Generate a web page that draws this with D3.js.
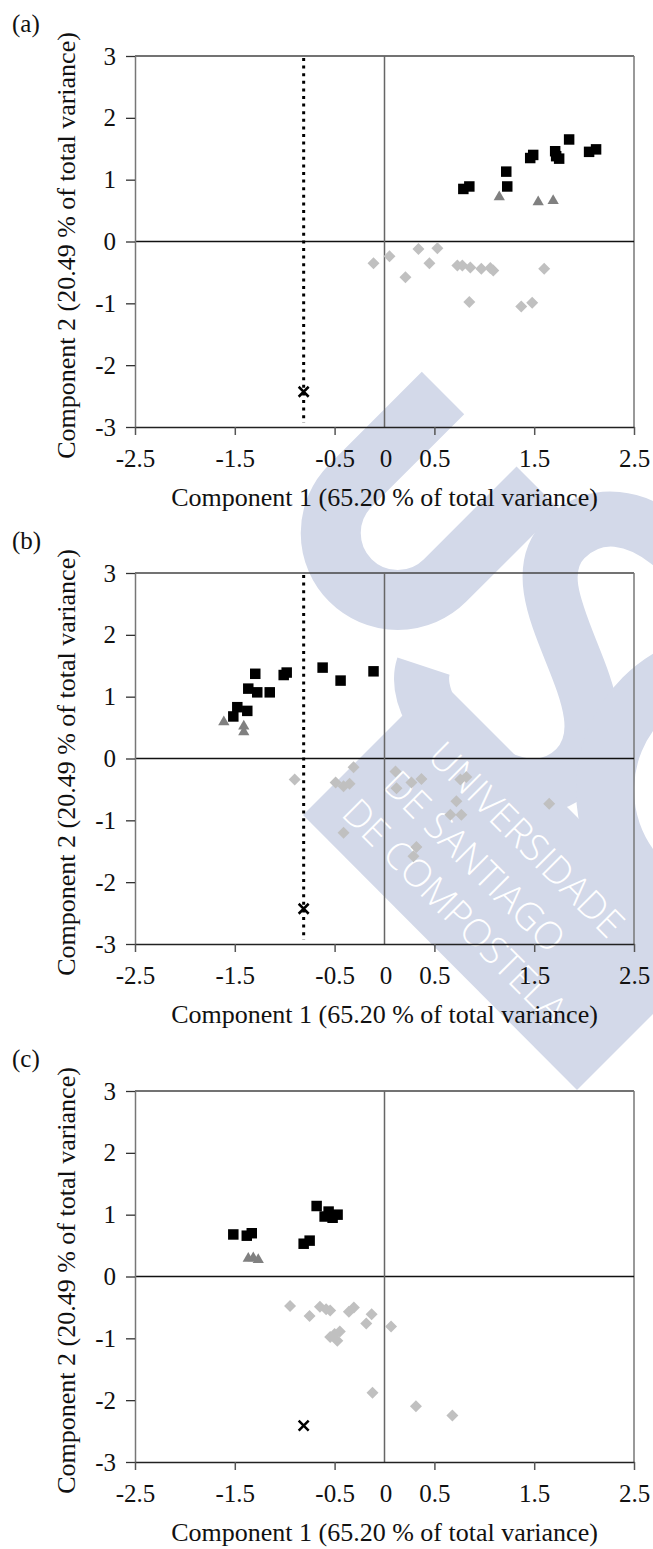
<!DOCTYPE html>
<html lang="en">
<head>
<meta charset="utf-8">
<title>PCA scores</title>
<script src="https://cdn.jsdelivr.net/npm/d3@7"></script>
<style>
  body { margin: 0; background: #fff; }
  svg text { font-family: "Liberation Serif", "Times New Roman", serif; fill: #111; }
  .axis text { font-size: 25px; }
  .wm text { font-family: "Open Sans", "DejaVu Sans", sans-serif; fill: #fff; font-weight: 300; }
</style>
</head>
<body>
<script>
// ---- data: [component 1, component 2] ----
// panel (a)
var aSquares = [[0.79,0.85],[0.85,0.89],[1.22,1.13],[1.23,0.89],[1.46,1.35],[1.49,1.40],
                [1.71,1.46],[1.72,1.38],[1.75,1.34],[1.85,1.65],[2.05,1.45],[2.12,1.49]];
var aTriangles = [[1.15,0.72],[1.54,0.64],[1.69,0.66]];
var aDiamonds = [[-0.11,-0.35],[0.05,-0.24],[0.21,-0.58],[0.34,-0.12],[0.45,-0.35],[0.53,-0.11],
                 [0.73,-0.39],[0.78,-0.39],[0.86,-0.42],[0.97,-0.44],[1.06,-0.43],[1.09,-0.47],
                 [0.85,-0.98],[1.37,-1.05],[1.48,-0.99],[1.60,-0.44]];
var aCross = [[-0.81,-2.43]];

// panel (b)
var bSquares = [[-1.515,0.68],[-1.475,0.83],[-1.375,0.77],[-1.365,1.13],[-1.275,1.07],[-1.295,1.37],
                [-1.15,1.07],[-1.01,1.35],[-0.98,1.39],[-0.62,1.47],[-0.44,1.26],[-0.11,1.41]];
var bTriangles = [[-1.61,0.59],[-1.41,0.52],[-1.41,0.43]];
var bDiamonds = [[-0.90,-0.34],[-0.31,-0.14],[-0.49,-0.39],[-0.41,-0.45],[-0.35,-0.41],[-0.41,-1.20],
                 [0.11,-0.21],[0.12,-0.48],[0.27,-0.39],[0.37,-0.33],[0.76,-0.34],[0.82,-0.30],
                 [0.72,-0.69],[0.66,-0.91],[0.77,-0.91],[0.32,-1.43],[0.29,-1.58],[1.65,-0.73]];
var bCross = [[-0.81,-2.43]];

// panel (c)
var cSquares = [[-1.515,0.68],[-1.38,0.66],[-1.33,0.70],[-0.81,0.53],[-0.75,0.58],[-0.68,1.14],
                [-0.60,0.97],[-0.56,1.05],[-0.52,0.95],[-0.47,1.00]];
var cTriangles = [[-1.365,0.29],[-1.315,0.30],[-1.265,0.27]];
var cDiamonds = [[-0.946,-0.478],[-0.751,-0.64],[-0.647,-0.49],[-0.585,-0.53],[-0.544,-0.55],
                 [-0.357,-0.57],[-0.307,-0.50],[-0.129,-0.61],[-0.183,-0.76],[0.066,-0.81],
                 [-0.544,-0.98],[-0.473,-1.04],[-0.448,-0.89],[-0.50,-0.93],[-0.12,-1.88],
                 [0.315,-2.10],[0.68,-2.25]];
var cCross = [[-0.81,-2.41]];

var cutoffs = [-0.81, -0.81, null];   // dotted vertical line, panels a and b
var xTicks = [-2.5, -1.5, -0.5, 0, 0.5, 1.5, 2.5];
var yTicks = [-3, -2, -1, 0, 1, 2, 3];
var panelLabels = ["(a)", "(b)", "(c)"];
var xTitle = "Component 1 (65.20 % of total variance)";
var yTitle = "Component 2 (20.49 % of total variance)";

// ---- layout ----
var w = 653, h = 1549;
var left = 135, right = 634, plotH = 371;
var tops = [56, 573, 1091];
var wmColor = "#d3d9e9";

var svg = d3.select("body").append("svg")
    .attr("width", w).attr("height", h);

// faint university watermark behind everything (U, S, C and the name band, tilted 45 deg)
var wm = svg.append("g").attr("class", "wm");
wm.append("path")
    .attr("transform", "translate(443,393) rotate(45)")
    .attr("d", "M0,0 L0,131 A67,67 0 0 0 134,131 L134,0")
    .attr("fill", "none").attr("stroke", wmColor).attr("stroke-width", 60);
wm.append("path")
    .attr("transform", "translate(572,652) rotate(45)")
    .attr("d", "M85,-115 C60,-160 -85,-165 -85,-75 C-85,5 85,-5 85,80 C85,165 -70,165 -95,115")
    .attr("fill", "none").attr("stroke", wmColor).attr("stroke-width", 55);
wm.append("path")
    .attr("transform", "translate(735,790) rotate(45)")
    .attr("d", "M83.6,-99.6 A130,130 0 1 0 83.6,99.6")
    .attr("fill", "none").attr("stroke", wmColor).attr("stroke-width", 58);
wm.append("polygon")
    .attr("points", "303,815 439,679 653,893 653,1014 577,1090")
    .attr("fill", wmColor);
var wmLines = [["UNIVERSIDADE", 426, 758], ["DE SANTIAGO", 381, 787], ["DE COMPOSTELA", 340, 815]];
wm.selectAll("text").data(wmLines).enter().append("text")
    .attr("transform", function(d) { return "translate(" + d[1] + "," + d[2] + ") rotate(45)"; })
    .style("font-size", "38px")
    .text(function(d) { return d[0]; });

var xScale = d3.scaleLinear().domain([-2.5, 2.5]).range([left, right]);

var panels = [
  {sq: aSquares, tr: aTriangles, di: aDiamonds, x: aCross},
  {sq: bSquares, tr: bTriangles, di: bDiamonds, x: bCross},
  {sq: cSquares, tr: cTriangles, di: cDiamonds, x: cCross}
];

panels.forEach(function(p, i) {
  var top = tops[i], bottom = top + plotH;
  var yScale = d3.scaleLinear().domain([-3, 3]).range([bottom, top]);
  var g = svg.append("g");

  // frame: top and right
  g.append("line").attr("x1", left).attr("x2", right).attr("y1", top).attr("y2", top)
    .attr("stroke", "#444").attr("stroke-width", 1.5);
  g.append("line").attr("x1", right).attr("x2", right).attr("y1", top).attr("y2", bottom)
    .attr("stroke", "#777").attr("stroke-width", 1.5);

  // zero lines
  g.append("line").attr("x1", left).attr("x2", right)
    .attr("y1", yScale(0)).attr("y2", yScale(0))
    .attr("stroke", "#111").attr("stroke-width", 1.3);
  g.append("line").attr("x1", xScale(0)).attr("x2", xScale(0))
    .attr("y1", top).attr("y2", bottom)
    .attr("stroke", "#666").attr("stroke-width", 1.5);

  // dotted cut-off line
  if (cutoffs[i] !== null) {
    g.append("line").attr("x1", xScale(cutoffs[i])).attr("x2", xScale(cutoffs[i]))
      .attr("y1", top + 2).attr("y2", bottom - 4)
      .attr("stroke", "#000").attr("stroke-width", 3)
      .attr("stroke-dasharray", "3,4.6");
  }

  // axes
  var yAxis = d3.axisLeft(yScale).tickValues(yTicks).tickSize(9).tickPadding(10)
      .tickSizeOuter(0).tickFormat(function(d) { return String(d); });
  var ya = g.append("g").attr("class", "axis")
      .attr("transform", "translate(" + left + ",0)").call(yAxis);
  ya.select(".domain").attr("stroke", "#777").attr("stroke-width", 1.5);
  ya.selectAll(".tick line").attr("stroke", "#333").attr("stroke-width", 1.3);

  var xAxis = d3.axisBottom(xScale).tickValues(xTicks).tickSize(8).tickPadding(14)
      .tickSizeOuter(0).tickFormat(function(d) { return String(d); });
  var xa = g.append("g").attr("class", "axis")
      .attr("transform", "translate(0," + bottom + ")").call(xAxis);
  xa.select(".domain").attr("stroke", "#222").attr("stroke-width", 1.5);
  xa.selectAll(".tick line").attr("stroke", "#555").attr("stroke-width", 1.5)
    .filter(function(d) { return d === 0; }).remove();
  xa.selectAll(".tick text").attr("dx", function(d) { return d === 0 ? "1" : "0"; });

  // markers
  g.selectAll(".di").data(p.di).enter().append("path").attr("class", "di")
    .attr("d", d3.symbol(d3.symbolSquare, 72))
    .attr("transform", function(d) { return "translate(" + xScale(d[0]) + "," + yScale(d[1]) + ") rotate(45)"; })
    .attr("fill", "#c0c0c0");

  g.selectAll(".tr").data(p.tr).enter().append("path").attr("class", "tr")
    .attr("d", d3.symbol(d3.symbolTriangle, 55))
    .attr("transform", function(d) { return "translate(" + xScale(d[0]) + "," + yScale(d[1]) + ")"; })
    .attr("fill", "#808080");

  g.selectAll(".sq").data(p.sq).enter().append("path").attr("class", "sq")
    .attr("d", d3.symbol(d3.symbolSquare, 110))
    .attr("transform", function(d) { return "translate(" + xScale(d[0]) + "," + yScale(d[1]) + ")"; })
    .attr("fill", "#000");

  g.selectAll(".cx").data(p.x).enter().append("path").attr("class", "cx")
    .attr("d", function(d) {
      var cx = xScale(d[0]), cy = yScale(d[1]), r = 5;
      return "M" + (cx - r) + "," + (cy - r) + "L" + (cx + r) + "," + (cy + r) +
             "M" + (cx - r) + "," + (cy + r) + "L" + (cx + r) + "," + (cy - r);
    })
    .attr("stroke", "#000").attr("stroke-width", 2.5).attr("fill", "none");

  // titles and panel letter
  g.append("text").attr("x", (left + right) / 2).attr("y", bottom + 79)
    .attr("text-anchor", "middle").style("font-size", "26px").text(xTitle);
  g.append("text")
    .attr("transform", "translate(75," + (top + plotH / 2 + 4) + ") rotate(-90)")
    .attr("text-anchor", "middle").style("font-size", "26px").text(yTitle);
  g.append("text").attr("x", 12).attr("y", top - 24)
    .style("font-size", "25px").text(panelLabels[i]);
});
</script>
</body>
</html>
